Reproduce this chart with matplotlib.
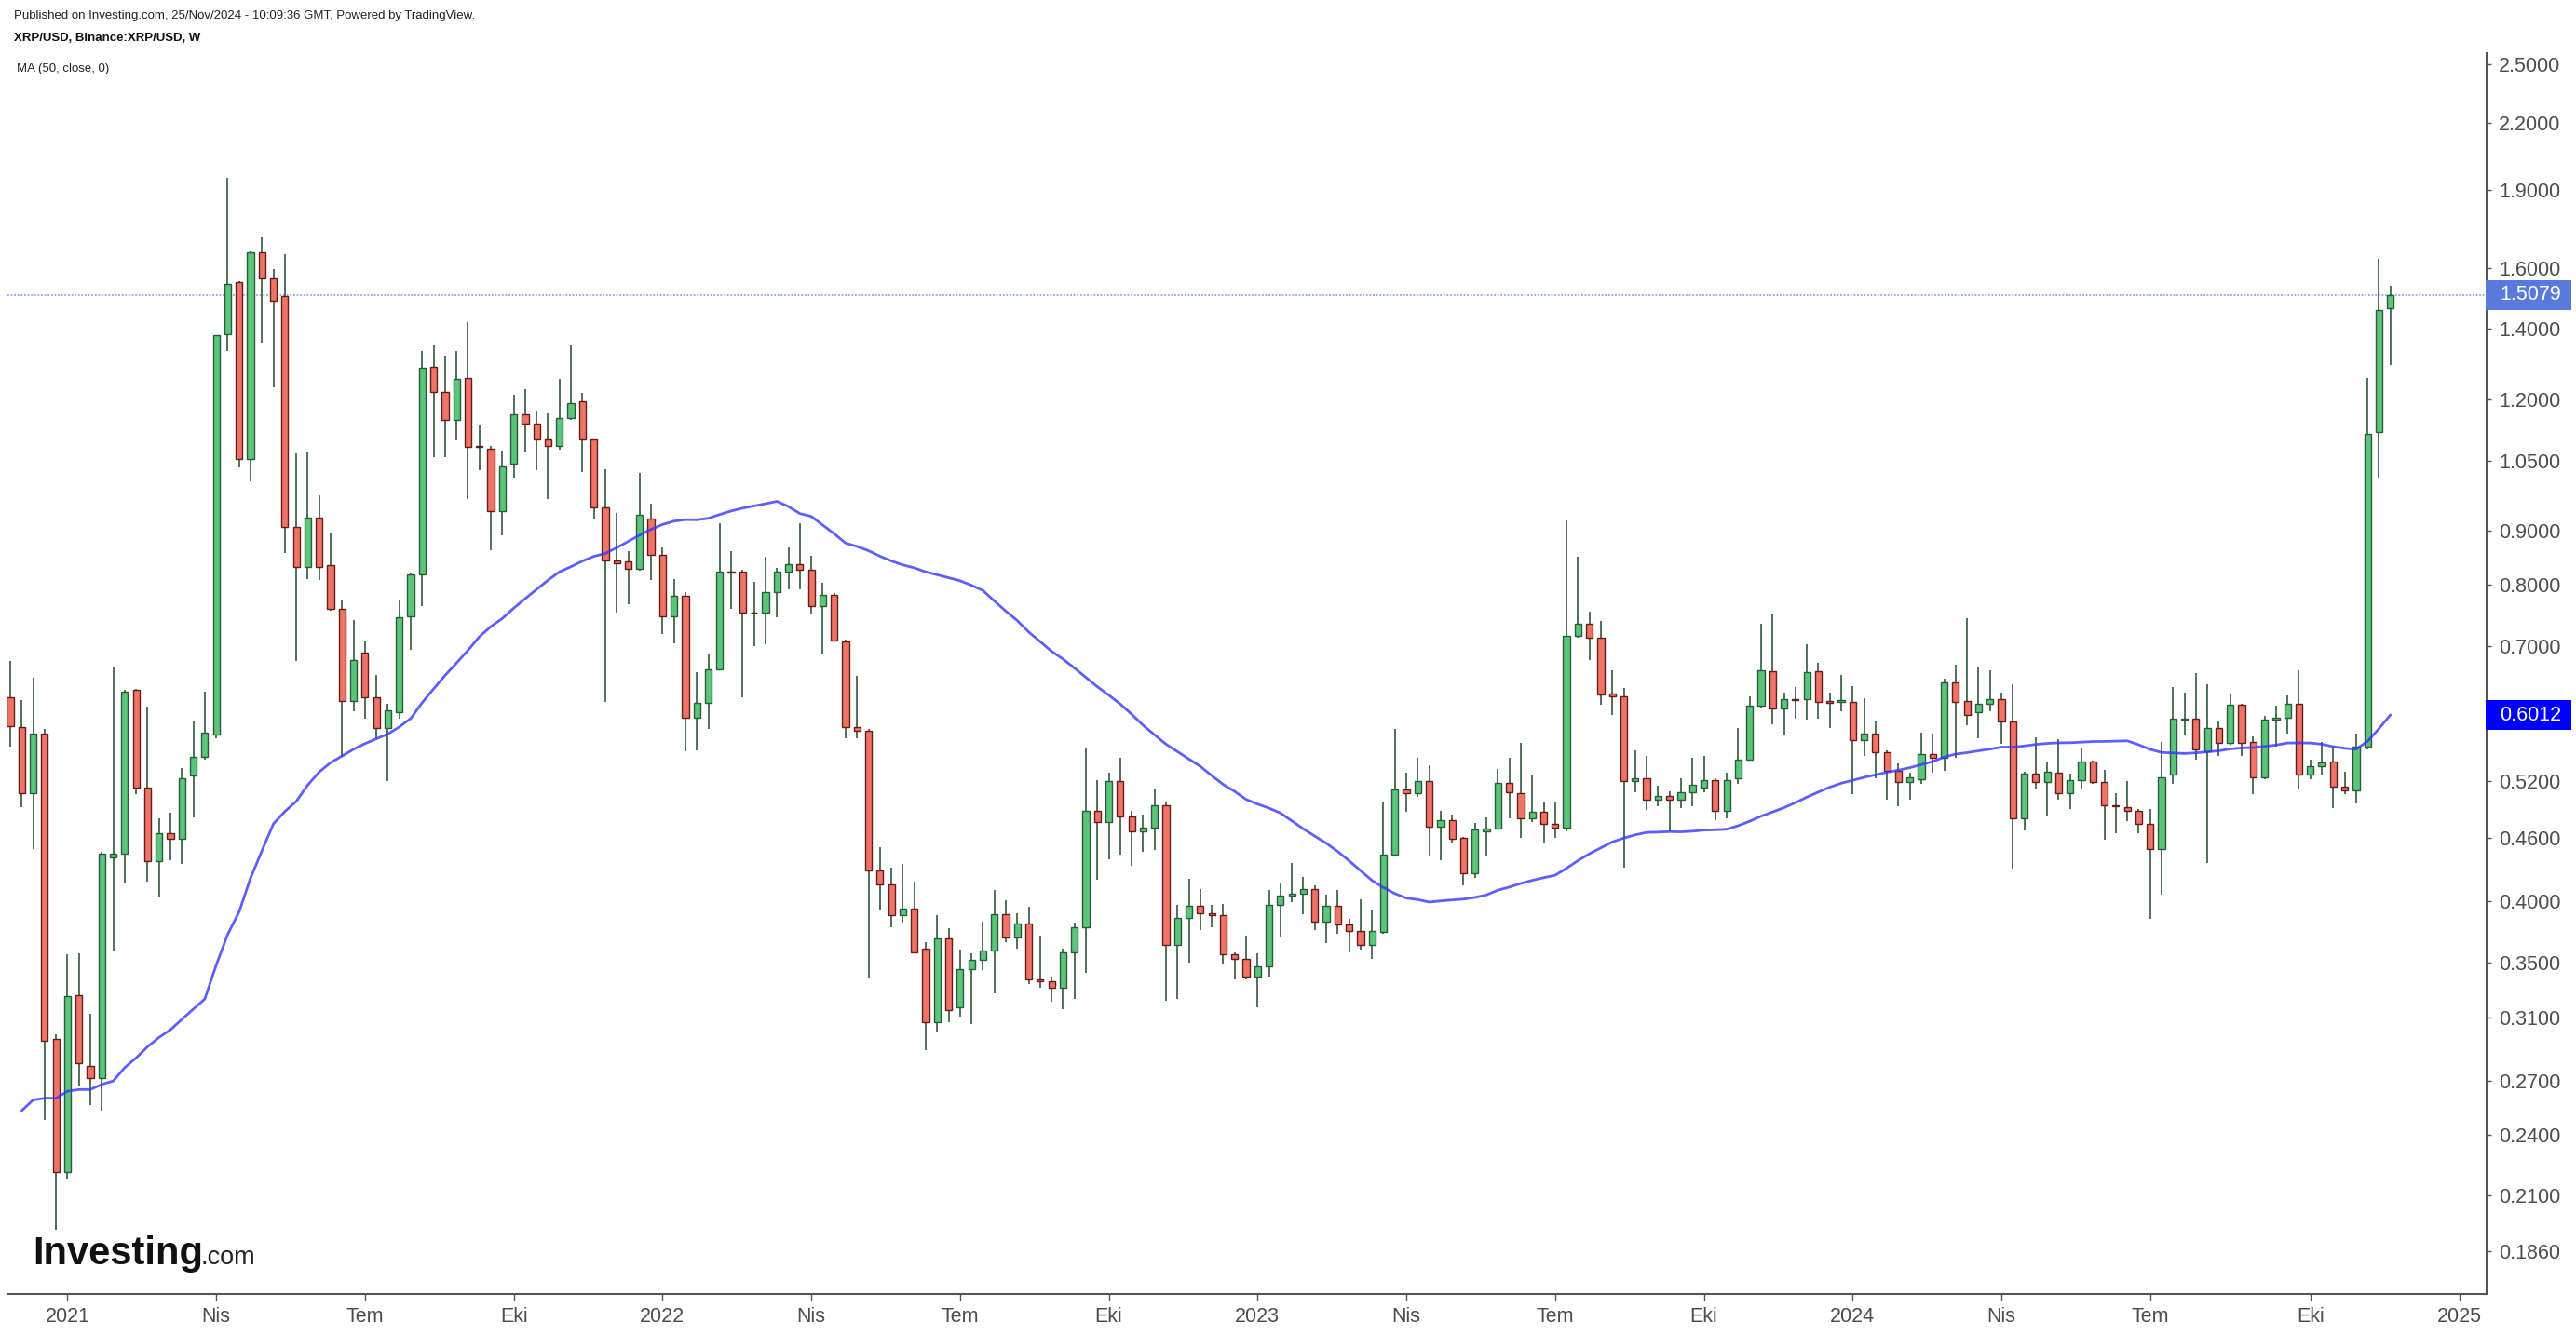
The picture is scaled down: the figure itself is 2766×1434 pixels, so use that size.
import numpy as np
import pandas as pd
import matplotlib
matplotlib.use('Agg')
import matplotlib.pyplot as plt
import matplotlib.dates as mdates
from matplotlib.patches import Rectangle
from matplotlib.ticker import FixedLocator, NullLocator, FixedFormatter

plt.rcParams['font.family'] = ['Liberation Sans', 'DejaVu Sans']

W, H, DPI = 2766, 1434, 100

# ---------------- data (weekly candles, XRP/USD) ----------------
start_date = '2020-11-30'

opens = [
    0.625, 0.586, 0.507, 0.577, 0.296, 0.221, 0.326, 0.279, 0.272, 0.440,
    0.444, 0.635, 0.513, 0.437, 0.464, 0.459, 0.527, 0.549, 0.576, 1.383,
    1.551, 1.053, 1.655, 1.565, 1.506, 0.907, 0.831, 0.926, 0.835, 0.759,
    0.620, 0.689, 0.625, 0.585, 0.605, 0.746, 0.818, 1.290, 1.219, 1.148,
    1.259, 1.083, 1.078, 0.940, 1.042, 1.162, 1.139, 1.100, 1.085, 1.153,
    1.195, 1.100, 0.948, 0.843, 0.842, 0.828, 0.925, 0.854, 0.746, 0.780,
    0.598, 0.618, 0.665, 0.823, 0.823, 0.753, 0.753, 0.787, 0.823, 0.836,
    0.826, 0.764, 0.782, 0.706, 0.586, 0.581, 0.428, 0.415, 0.388, 0.394,
    0.361, 0.307, 0.369, 0.317, 0.345, 0.352, 0.359, 0.389, 0.370, 0.381,
    0.337, 0.336, 0.331, 0.358, 0.378, 0.488, 0.476, 0.520, 0.482, 0.466,
    0.470, 0.494, 0.364, 0.386, 0.396, 0.390, 0.388, 0.356, 0.353, 0.339,
    0.347, 0.397, 0.405, 0.407, 0.411, 0.383, 0.396, 0.380, 0.375, 0.364,
    0.374, 0.443, 0.511, 0.507, 0.520, 0.471, 0.478, 0.460, 0.425, 0.466,
    0.469, 0.518, 0.507, 0.480, 0.487, 0.474, 0.470, 0.716, 0.734, 0.712,
    0.630, 0.627, 0.520, 0.524, 0.500, 0.504, 0.500, 0.508, 0.513, 0.522,
    0.488, 0.524, 0.546, 0.614, 0.662, 0.610, 0.623, 0.623, 0.662, 0.620,
    0.619, 0.619, 0.569, 0.577, 0.555, 0.532, 0.519, 0.523, 0.552, 0.548,
    0.646, 0.620, 0.605, 0.617, 0.623, 0.593, 0.480, 0.529, 0.519, 0.530,
    0.507, 0.522, 0.543, 0.519, 0.494, 0.492, 0.488, 0.474, 0.449, 0.528,
    0.596, 0.597, 0.556, 0.585, 0.566, 0.615, 0.567, 0.525, 0.596, 0.598,
    0.616, 0.528, 0.538, 0.543, 0.514, 0.510, 0.561, 1.117, 1.465,
]

highs = [
    0.677, 0.622, 0.652, 0.584, 0.299, 0.356, 0.357, 0.313, 0.446, 0.668,
    0.636, 0.637, 0.613, 0.480, 0.486, 0.536, 0.594, 0.633, 1.380, 1.950,
    1.555, 1.660, 1.710, 1.597, 1.650, 1.067, 1.070, 0.972, 0.897, 0.773,
    0.740, 0.706, 0.657, 0.616, 0.775, 0.820, 1.333, 1.352, 1.322, 1.335,
    1.421, 1.137, 1.085, 1.073, 1.212, 1.227, 1.168, 1.163, 1.256, 1.352,
    1.218, 1.100, 1.031, 0.936, 0.861, 1.022, 0.956, 0.868, 0.810, 0.787,
    0.660, 0.688, 0.915, 0.861, 0.826, 0.805, 0.850, 0.830, 0.868, 0.915,
    0.853, 0.803, 0.785, 0.710, 0.655, 0.584, 0.450, 0.431, 0.434, 0.418,
    0.366, 0.388, 0.377, 0.360, 0.357, 0.383, 0.410, 0.401, 0.390, 0.395,
    0.371, 0.339, 0.361, 0.382, 0.559, 0.522, 0.530, 0.548, 0.488, 0.484,
    0.511, 0.497, 0.397, 0.420, 0.411, 0.397, 0.398, 0.358, 0.371, 0.357,
    0.410, 0.417, 0.435, 0.422, 0.414, 0.406, 0.410, 0.385, 0.402, 0.392,
    0.497, 0.583, 0.530, 0.548, 0.539, 0.488, 0.484, 0.461, 0.475, 0.481,
    0.535, 0.548, 0.566, 0.528, 0.498, 0.497, 0.920, 0.850, 0.754, 0.739,
    0.664, 0.638, 0.557, 0.550, 0.515, 0.509, 0.524, 0.548, 0.550, 0.524,
    0.530, 0.585, 0.626, 0.735, 0.750, 0.632, 0.640, 0.703, 0.674, 0.632,
    0.656, 0.641, 0.624, 0.594, 0.557, 0.541, 0.530, 0.579, 0.577, 0.651,
    0.672, 0.744, 0.668, 0.663, 0.632, 0.644, 0.531, 0.573, 0.543, 0.571,
    0.529, 0.559, 0.544, 0.533, 0.507, 0.521, 0.490, 0.490, 0.567, 0.640,
    0.632, 0.659, 0.644, 0.593, 0.631, 0.616, 0.574, 0.600, 0.614, 0.628,
    0.664, 0.545, 0.567, 0.561, 0.531, 0.577, 1.258, 1.632, 1.540,
]

lows = [
    0.561, 0.492, 0.449, 0.248, 0.195, 0.218, 0.267, 0.256, 0.253, 0.359,
    0.416, 0.506, 0.418, 0.404, 0.438, 0.434, 0.481, 0.545, 0.572, 1.333,
    1.035, 1.003, 1.360, 1.232, 0.858, 0.677, 0.810, 0.808, 0.755, 0.549,
    0.607, 0.597, 0.572, 0.521, 0.597, 0.694, 0.764, 1.058, 1.058, 1.097,
    0.965, 1.027, 0.862, 0.892, 1.011, 1.070, 1.027, 0.965, 1.076, 1.147,
    1.023, 0.924, 0.619, 0.753, 0.766, 0.825, 0.808, 0.718, 0.704, 0.556,
    0.557, 0.583, 0.663, 0.759, 0.625, 0.699, 0.702, 0.745, 0.792, 0.792,
    0.750, 0.687, 0.706, 0.572, 0.572, 0.338, 0.393, 0.378, 0.382, 0.357,
    0.289, 0.300, 0.307, 0.311, 0.306, 0.344, 0.327, 0.366, 0.361, 0.334,
    0.331, 0.321, 0.316, 0.323, 0.342, 0.419, 0.439, 0.443, 0.432, 0.446,
    0.448, 0.322, 0.323, 0.350, 0.376, 0.378, 0.349, 0.337, 0.337, 0.317,
    0.339, 0.370, 0.399, 0.389, 0.376, 0.365, 0.373, 0.358, 0.360, 0.353,
    0.373, 0.442, 0.487, 0.503, 0.442, 0.438, 0.454, 0.414, 0.421, 0.442,
    0.468, 0.480, 0.460, 0.476, 0.454, 0.460, 0.466, 0.712, 0.678, 0.615,
    0.602, 0.431, 0.508, 0.489, 0.493, 0.466, 0.491, 0.493, 0.508, 0.478,
    0.480, 0.517, 0.545, 0.612, 0.589, 0.576, 0.597, 0.596, 0.597, 0.585,
    0.607, 0.506, 0.550, 0.524, 0.500, 0.493, 0.500, 0.517, 0.530, 0.532,
    0.548, 0.588, 0.572, 0.607, 0.565, 0.430, 0.467, 0.512, 0.482, 0.500,
    0.490, 0.511, 0.517, 0.458, 0.464, 0.477, 0.464, 0.385, 0.406, 0.517,
    0.576, 0.546, 0.435, 0.550, 0.564, 0.550, 0.506, 0.523, 0.561, 0.578,
    0.511, 0.523, 0.527, 0.491, 0.506, 0.496, 0.558, 1.011, 1.294,
]

closes = [
    0.587, 0.507, 0.577, 0.295, 0.221, 0.325, 0.281, 0.272, 0.444, 0.444,
    0.633, 0.513, 0.437, 0.464, 0.459, 0.524, 0.549, 0.579, 1.380, 1.546,
    1.053, 1.655, 1.565, 1.490, 0.907, 0.831, 0.926, 0.831, 0.759, 0.620,
    0.678, 0.625, 0.585, 0.608, 0.745, 0.818, 1.286, 1.219, 1.148, 1.255,
    1.081, 1.081, 0.940, 1.037, 1.162, 1.139, 1.100, 1.085, 1.153, 1.190,
    1.100, 0.948, 0.843, 0.838, 0.828, 0.932, 0.854, 0.746, 0.780, 0.598,
    0.618, 0.665, 0.823, 0.821, 0.752, 0.752, 0.787, 0.823, 0.836, 0.826,
    0.764, 0.782, 0.708, 0.586, 0.581, 0.428, 0.415, 0.388, 0.394, 0.358,
    0.307, 0.369, 0.315, 0.345, 0.352, 0.359, 0.389, 0.370, 0.381, 0.337,
    0.336, 0.331, 0.358, 0.378, 0.488, 0.476, 0.520, 0.482, 0.466, 0.470,
    0.494, 0.364, 0.386, 0.396, 0.390, 0.388, 0.356, 0.353, 0.339, 0.347,
    0.397, 0.405, 0.407, 0.411, 0.383, 0.396, 0.380, 0.375, 0.364, 0.375,
    0.443, 0.511, 0.507, 0.520, 0.471, 0.478, 0.459, 0.425, 0.468, 0.469,
    0.518, 0.508, 0.480, 0.487, 0.474, 0.470, 0.716, 0.734, 0.712, 0.629,
    0.627, 0.521, 0.524, 0.500, 0.504, 0.500, 0.508, 0.516, 0.522, 0.488,
    0.522, 0.546, 0.614, 0.664, 0.610, 0.623, 0.621, 0.660, 0.619, 0.618,
    0.622, 0.569, 0.577, 0.555, 0.532, 0.519, 0.525, 0.552, 0.548, 0.646,
    0.619, 0.601, 0.617, 0.623, 0.593, 0.480, 0.529, 0.519, 0.531, 0.507,
    0.522, 0.543, 0.519, 0.494, 0.493, 0.488, 0.474, 0.449, 0.525, 0.597,
    0.597, 0.558, 0.585, 0.566, 0.615, 0.566, 0.525, 0.596, 0.598, 0.616,
    0.528, 0.538, 0.542, 0.514, 0.510, 0.561, 1.113, 1.460, 1.5079,
]

# MA(50) values for the first weeks (earlier history not shown)
ma_head = [
    0.253, 0.259, 0.260, 0.260, 0.264, 0.265, 0.265, 0.268, 0.270, 0.278,
    0.284, 0.291, 0.297, 0.302, 0.309, 0.316, 0.323, 0.348, 0.372, 0.391,
    0.421, 0.447, 0.474, 0.487, 0.498, 0.516, 0.531, 0.542, 0.550, 0.558,
    0.565, 0.571, 0.577, 0.586, 0.597, 0.618, 0.637, 0.656, 0.674, 0.693,
    0.714, 0.730, 0.743, 0.760, 0.776, 0.792, 0.808, 0.823,
]

last_price = 1.5079
ma_last_label = 0.6012

y_ticks = [2.5, 2.2, 1.9, 1.6, 1.4, 1.2, 1.05, 0.9, 0.8, 0.7, 0.52, 0.46,
           0.40, 0.35, 0.31, 0.27, 0.24, 0.21, 0.186]

x_tick_dates = ['2021-01-04', '2021-04-05', '2021-07-05', '2021-10-04',
                '2022-01-03', '2022-04-04', '2022-07-04', '2022-10-03',
                '2023-01-02', '2023-04-03', '2023-07-03', '2023-10-02',
                '2024-01-01', '2024-04-01', '2024-07-01', '2024-10-07',
                '2025-01-06']
x_tick_labels = ['2021', 'Nis', 'Tem', 'Eki', '2022', 'Nis', 'Tem', 'Eki',
                 '2023', 'Nis', 'Tem', 'Eki', '2024', 'Nis', 'Tem', 'Eki',
                 '2025']

# ---------------- build ----------------
o = np.array(opens)
h = np.array(highs)
l = np.array(lows)
c = np.array(closes)
n = len(c)
dates = pd.date_range(start_date, periods=n, freq='7D')
x = mdates.date2num(dates.to_numpy())

ma = pd.Series(c).rolling(50).mean().to_numpy()
ma[1:1 + len(ma_head)] = ma_head

GREEN = '#5bc57a'
GREEN_EDGE = '#2d5a3c'
RED = '#ee7468'
RED_EDGE = '#641e19'
WICK = '#2d5a3c'
AXIS_C = '#555555'
LABEL_C = '#4d4d4d'

fig = plt.figure(figsize=(W / DPI, H / DPI), dpi=DPI)
fig.patch.set_facecolor('white')
ax_left, ax_right, ax_top, ax_bottom = 8, 2670, 57, 1390
ax = fig.add_axes([ax_left / W, (H - ax_bottom) / H,
                   (ax_right - ax_left) / W, (ax_bottom - ax_top) / H])
ax.set_facecolor('white')
ax.set_yscale('log')
ax.set_ylim(0.16937, 2.5612)
ax.set_xlim(x[0] - 1.7, x[0] + 216.4 * 7)

# last price line
ax.axhline(last_price, color='#8ea4ee', lw=1.3, ls=(0, (1.0, 1.0)), zorder=1)

# wicks
ax.vlines(x, l, h, colors=WICK, linewidth=1.2, zorder=2)

# bodies
up = c >= o
dn = ~up
bw = 4.1
ax.bar(x[up], c[up] - o[up], bottom=o[up], width=bw, color=GREEN,
       edgecolor=GREEN_EDGE, linewidth=1.0, zorder=3)
ax.bar(x[dn], o[dn] - c[dn], bottom=c[dn], width=bw, color=RED,
       edgecolor=RED_EDGE, linewidth=1.0, zorder=3)

# moving average
ax.plot(x[1:], ma[1:], color='#3636ff', alpha=0.8, lw=2.0, zorder=4,
        solid_capstyle='round')

# spines
for s in ['left', 'top']:
    ax.spines[s].set_visible(False)
for s in ['right', 'bottom']:
    ax.spines[s].set_color(AXIS_C)
    ax.spines[s].set_linewidth(1.5)

# y axis on right
ax.yaxis.tick_right()
ax.yaxis.set_major_locator(FixedLocator(y_ticks))
ax.yaxis.set_minor_locator(NullLocator())
ax.yaxis.set_major_formatter(FixedFormatter(['%.4f' % v for v in y_ticks]))
ax.tick_params(axis='y', which='major', direction='out', length=3.8, width=1.0,
               colors=AXIS_C, labelcolor=LABEL_C, labelsize=15.5, pad=5.5,
               right=True, left=False)

# x axis
xt = mdates.date2num(pd.to_datetime(x_tick_dates).to_numpy())
ax.xaxis.set_major_locator(FixedLocator(xt))
ax.xaxis.set_minor_locator(NullLocator())
ax.xaxis.set_major_formatter(FixedFormatter(x_tick_labels))
ax.tick_params(axis='x', which='major', direction='out', length=5, width=1.0,
               colors=AXIS_C, labelcolor=LABEL_C, labelsize=15.5, pad=5)

# price labels on the right axis
def price_box(val, text, fc):
    y_pix = ax.transData.transform((x[0], val))[1]
    fig.patches.append(Rectangle((2669 / W, (y_pix - 16) / H), 92 / W, 32 / H,
                                 transform=fig.transFigure, facecolor=fc,
                                 edgecolor='none', zorder=5))
    fig.text(2684 / W, y_pix / H, text, color='white', fontsize=15.5,
             va='center', ha='left', zorder=6)

price_box(last_price, '%.4f' % last_price, '#5a79dc')
price_box(ma_last_label, '%.4f' % ma_last_label, '#0000ff')

# header texts
fig.text(15 / W, 1 - 17 / H, 'Published on Investing.com, 25/Nov/2024 - 10:09:36 GMT, Powered by TradingView.',
         fontsize=9.5, color='#222222', va='center', ha='left')
fig.text(15 / W, 1 - 41 / H, 'XRP/USD, Binance:XRP/USD, W',
         fontsize=9.5, fontweight='bold', color='#111111', va='center', ha='left')
fig.text(18 / W, 1 - 74 / H, 'MA (50, close, 0)',
         fontsize=9.5, color='#222222', va='center', ha='left')

# watermark logo
fig.text(35 / W, 1 - 1358 / H, 'Investing', fontsize=30, fontweight='bold',
         color='#111111', va='baseline', ha='left')
fig.text(216 / W, 1 - 1358 / H, '.com', fontsize=19.5,
         color='#222222', va='baseline', ha='left')

fig.savefig('out.png', dpi=DPI, facecolor='white')
